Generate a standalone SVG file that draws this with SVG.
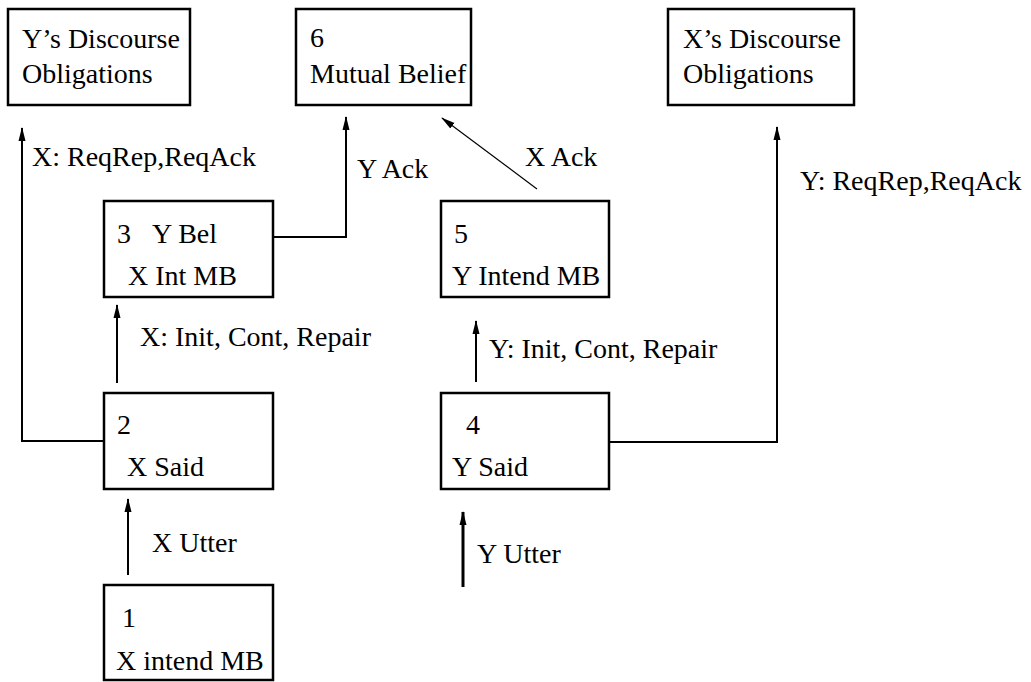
<svg xmlns="http://www.w3.org/2000/svg" width="1031" height="682" viewBox="0 0 1031 682">
  <style>
    .box { fill: #fff; stroke: #000; stroke-width: 2.5; }
    text { font-size: 28px; fill: #000; }
    .conn { fill: none; stroke: #000; stroke-width: 2; }
    .thin { stroke-width: 1.2; }
    .thick { stroke-width: 3; }
  </style>
  <defs>
    <marker id="tip" markerUnits="userSpaceOnUse" markerWidth="14" markerHeight="10" viewBox="0 0 14 10" refX="13" refY="5" orient="auto">
      <path d="M0,1.5 L14,5 L0,8.5 Z" fill="#000"/>
    </marker>
  </defs>
  <rect width="1031" height="682" fill="#fff"/>

  <g font-family="Liberation Serif, DejaVu Serif, serif">
  <!-- connectors -->
  <g id="connectors">
    <path class="conn" d="M104,441 H22 V128" marker-end="url(#tip)"/>
    <path class="conn" d="M273,237 H346 V117" marker-end="url(#tip)"/>
    <path class="conn thin" d="M537,189 L442,118" marker-end="url(#tip)"/>
    <path class="conn" d="M609,442 H777 V127" marker-end="url(#tip)"/>
    <path class="conn" d="M117,383 V305" marker-end="url(#tip)"/>
    <path class="conn" d="M476,382 V321" marker-end="url(#tip)"/>
    <path class="conn" d="M128,575 V499" marker-end="url(#tip)"/>
    <path class="conn thick" d="M463,587 V512" marker-end="url(#tip)"/>
    <text x="32" y="166">X: ReqRep,ReqAck</text>
    <text x="357" y="178">Y Ack</text>
    <text x="525" y="166">X Ack</text>
    <text x="800" y="190">Y: ReqRep,ReqAck</text>
    <text x="140" y="346">X: Init, Cont, Repair</text>
    <text x="489" y="358">Y: Init, Cont, Repair</text>
    <text x="152" y="552">X Utter</text>
    <text x="477" y="563">Y Utter</text>
  </g>

  <!-- nodes -->
  <g id="y-obligations">
    <rect class="box" x="8" y="9" width="182" height="96"/>
    <text x="22" y="48">Y’s Discourse</text>
    <text x="22" y="83">Obligations</text>
  </g>
  <g id="node6">
    <rect class="box" x="296" y="9" width="175" height="96"/>
    <text x="310" y="47">6</text>
    <text x="310" y="83">Mutual Belief</text>
  </g>
  <g id="x-obligations">
    <rect class="box" x="668" y="9" width="186" height="96"/>
    <text x="683" y="48">X’s Discourse</text>
    <text x="683" y="83">Obligations</text>
  </g>
  <g id="node3">
    <rect class="box" x="104" y="201" width="169" height="96"/>
    <text x="117" y="243">3</text>
    <text x="152" y="243">Y Bel</text>
    <text x="128" y="285">X Int MB</text>
  </g>
  <g id="node5">
    <rect class="box" x="441" y="201" width="168" height="96"/>
    <text x="454" y="243">5</text>
    <text x="452" y="285">Y Intend MB</text>
  </g>
  <g id="node2">
    <rect class="box" x="104" y="393" width="169" height="96"/>
    <text x="117" y="434">2</text>
    <text x="127" y="476">X Said</text>
  </g>
  <g id="node4">
    <rect class="box" x="441" y="393" width="168" height="96"/>
    <text x="466" y="434">4</text>
    <text x="452" y="476">Y Said</text>
  </g>
  <g id="node1">
    <rect class="box" x="104" y="585" width="169" height="95"/>
    <text x="122" y="627">1</text>
    <text x="116" y="670">X intend MB</text>
  </g>
  </g>
</svg>
